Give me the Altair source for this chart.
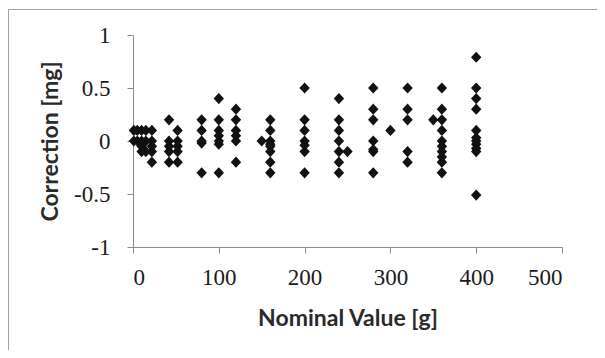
import altair as alt
import pandas as pd

# Nominal values [g] and corrections [mg]
nominal_1 = [1, 1]
corr_1 = [0.1, 0.0]
nominal_5 = [5, 5]
corr_5 = [0.1, 0.0]
nominal_10 = [10, 10, 10, 10]
corr_10 = [0.1, 0.0, -0.05, -0.1]
nominal_15 = [15, 15, 15]
corr_15 = [0.1, 0.0, -0.1]
nominal_22 = [22, 22, 22, 22, 22]
corr_22 = [0.1, 0.0, -0.05, -0.1, -0.2]
nominal_42 = [42, 42, 42, 42, 42]
corr_42 = [0.2, 0.0, -0.05, -0.1, -0.2]
nominal_52 = [52, 52, 52, 52, 52]
corr_52 = [0.1, 0.0, -0.05, -0.1, -0.2]
nominal_80 = [80, 80, 80, 80, 80]
corr_80 = [0.2, 0.1, 0.0, -0.02, -0.3]
nominal_100 = [100] * 7
corr_100 = [0.4, 0.2, 0.1, 0.05, 0.0, -0.03, -0.3]
nominal_120 = [120] * 6
corr_120 = [0.3, 0.2, 0.1, 0.05, 0.0, -0.2]
nominal_150 = [150]
corr_150 = [0.0]
nominal_160 = [160] * 8
corr_160 = [0.2, 0.1, 0.0, -0.03, -0.05, -0.1, -0.2, -0.3]
nominal_200 = [200] * 7
corr_200 = [0.5, 0.2, 0.1, 0.0, -0.04, -0.1, -0.3]
nominal_240 = [240] * 7
corr_240 = [0.4, 0.2, 0.1, 0.0, -0.1, -0.2, -0.3]
nominal_250 = [250]
corr_250 = [-0.1]
nominal_280 = [280] * 7
corr_280 = [0.5, 0.3, 0.2, 0.0, -0.08, -0.1, -0.3]
nominal_300 = [300]
corr_300 = [0.1]
nominal_320 = [320] * 5
corr_320 = [0.5, 0.3, 0.2, -0.1, -0.2]
nominal_350 = [350]
corr_350 = [0.2]
nominal_360 = [360] * 10
corr_360 = [0.5, 0.3, 0.2, 0.1, 0.0, -0.05, -0.1, -0.15, -0.2, -0.3]
nominal_400 = [400] * 11
corr_400 = [0.79, 0.5, 0.4, 0.3, 0.1, 0.03, 0.0, -0.03, -0.07, -0.1, -0.51]

x_ticks = [0, 100, 200, 300, 400, 500]
y_ticks = [-1, -0.5, 0, 0.5, 1]

nominal = (nominal_1 + nominal_5 + nominal_10 + nominal_15 + nominal_22 + nominal_42
           + nominal_52 + nominal_80 + nominal_100 + nominal_120 + nominal_150
           + nominal_160 + nominal_200 + nominal_240 + nominal_250 + nominal_280
           + nominal_300 + nominal_320 + nominal_350 + nominal_360 + nominal_400)
correction = (corr_1 + corr_5 + corr_10 + corr_15 + corr_22 + corr_42
              + corr_52 + corr_80 + corr_100 + corr_120 + corr_150
              + corr_160 + corr_200 + corr_240 + corr_250 + corr_280
              + corr_300 + corr_320 + corr_350 + corr_360 + corr_400)

df = pd.DataFrame({"nominal": nominal, "correction": correction})

W, H = 429, 212
AXIS_GRAY = "#8a8a8a"
TITLE_FONT = "Lato"
LABEL_FONT = "Liberation Serif"

points = alt.Chart(df).mark_point(
    shape="M0,-1L0.93,0L0,1L-0.93,0Z",
    filled=True,
    size=125,
    color="#111111",
    opacity=1,
).encode(
    x=alt.X(
        "nominal:Q",
        scale=alt.Scale(domain=[0, 500], nice=False, zero=False),
        axis=alt.Axis(
            values=x_ticks,
            title="Nominal Value [g]",
            labelExpr="datum.value",
            titlePadding=18,
        ),
    ),
    y=alt.Y(
        "correction:Q",
        scale=alt.Scale(domain=[-1, 1], nice=False, zero=False),
        axis=alt.Axis(
            values=y_ticks,
            title="Correction [mg]",
            labelExpr="datum.value",
            titlePadding=11,
        ),
    ),
)

frame = alt.Chart(alt.Data(values=[{"a": 1}])).mark_rect(
    filled=False,
    stroke="#a0a0a0",
    strokeWidth=1,
).encode(
    x=alt.value(-124.5),
    x2=alt.value(W + 60),
    y=alt.value(-25.5),
    y2=alt.value(H + 130),
)

chart = alt.layer(frame, points).properties(
    width=W,
    height=H,
    autosize=alt.AutoSizeParams(type="none"),
    padding={"left": 125, "top": 27, "right": 35, "bottom": 103},
    background="white",
).configure_view(
    stroke=None,
).configure_axis(
    grid=False,
    domainColor=AXIS_GRAY,
    domainWidth=1,
    tickColor=AXIS_GRAY,
    tickSize=6,
    tickWidth=1,
    labelFont=LABEL_FONT,
    labelFontSize=23,
    labelColor="#1a1a1a",
    labelPadding=13,
    titleFont=TITLE_FONT,
    titleFontSize=23,
    titleFontWeight="bold",
    titleColor="#2a2a2a",
).configure_axisY(
    labelPadding=17,
)

chart.save("out.html", embed_options={"renderer": "svg", "actions": False})
